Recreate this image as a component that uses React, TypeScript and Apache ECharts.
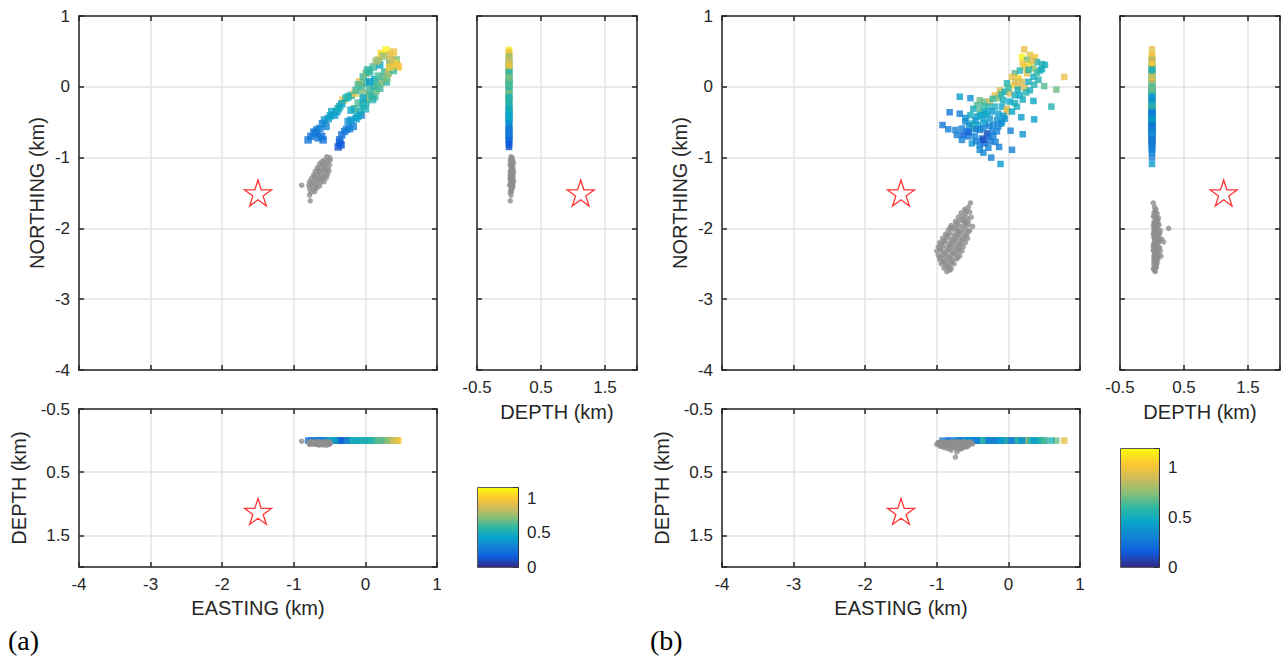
import React, { useEffect, useRef } from 'react';
import * as echarts from 'echarts';

// parula colour map
const parula = ['#352a87', '#0f5cdd', '#1481d6', '#06a4ca', '#2eb7a4', '#87bf77', '#d1bb59', '#fec832', '#f9fb0e'];

const mapTicks = [-4, -3, -2, -1, 0, 1];
const depthTicks = [-0.5, 0.5, 1.5];
const cbTicks = [0, 0.5, 1];
const cbMaxA = 1.15;
const cbMaxB = 1.18;
const quakeDepth = 0;
// star: [easting, northing, depth]
const starA = [-1.5, -1.5, 1.12];
const starB = [-1.5, -1.5, 1.12];

// coloured events (a): [easting, northing, value]
const quakesA: number[][] = [
  [-0.80, -0.75, 0.25], [-0.76, -0.70, 0.22], [-0.72, -0.64, 0.28], [-0.68, -0.61, 0.25], [-0.64, -0.59, 0.28],
  [-0.61, -0.70, 0.20], [-0.59, -0.75, 0.22], [-0.66, -0.72, 0.24], [-0.57, -0.47, 0.35], [-0.60, -0.52, 0.30],
  [-0.52, -0.45, 0.40], [-0.47, -0.35, 0.45], [-0.40, -0.35, 0.42], [-0.36, -0.28, 0.50], [-0.43, -0.40, 0.38],
  [-0.31, -0.19, 0.95], [-0.27, -0.16, 0.50], [-0.33, -0.24, 0.45], [-0.20, -0.12, 0.55], [-0.15, -0.09, 0.95],
  [-0.13, -0.05, 0.60], [-0.06, 0.00, 0.60], [-0.08, 0.07, 0.95], [-0.03, 0.14, 0.60], [0.01, 0.19, 0.70],
  [0.06, 0.21, 0.55], [0.11, 0.28, 0.60], [0.20, 0.31, 0.45], [0.18, 0.38, 0.80], [0.22, 0.47, 1.05],
  [0.29, 0.52, 1.12], [0.34, 0.45, 0.90], [0.39, 0.49, 0.95], [0.43, 0.38, 0.70], [0.46, 0.28, 1.00],
  [0.34, 0.33, 0.60], [0.27, 0.21, 0.60], [0.25, 0.43, 0.75], [0.41, 0.33, 1.05],
  [-0.38, -0.85, 0.12], [-0.36, -0.79, 0.15], [-0.36, -0.75, 0.20], [-0.33, -0.68, 0.22], [-0.29, -0.63, 0.25],
  [-0.22, -0.59, 0.28], [-0.17, -0.56, 0.30], [-0.24, -0.49, 0.35], [-0.20, -0.47, 0.38], [-0.13, -0.45, 0.40],
  [-0.06, -0.40, 0.30], [-0.08, -0.35, 0.50], [-0.15, -0.31, 0.60], [-0.20, -0.33, 0.45], [-0.10, -0.23, 0.62],
  [-0.03, -0.26, 0.50], [0.01, -0.21, 0.55], [0.04, -0.14, 0.90], [0.08, -0.12, 0.55], [0.13, -0.14, 0.60],
  [0.15, -0.05, 0.70], [0.11, 0.00, 0.55], [0.20, -0.02, 0.60], [0.22, 0.07, 0.90], [0.29, 0.07, 0.55],
  [0.25, 0.14, 0.65], [0.32, 0.19, 0.80], [0.39, 0.23, 0.60], [0.34, 0.28, 1.00], [0.01, 0.05, 0.60],
  [0.06, -0.05, 0.60], [-0.03, -0.09, 0.70], [0.06, 0.07, 0.40], [0.13, 0.10, 0.45], [-0.03, -0.16, 0.45],
  [0.18, 0.15, 0.62], [-0.70, -0.66, 0.26], [-0.55, -0.56, 0.30], [-0.49, -0.41, 0.42], [-0.38, -0.31, 0.48],
  [-0.24, -0.14, 0.55], [-0.10, 0.03, 0.62], [0.03, 0.24, 0.58], [0.15, 0.36, 0.75], [0.36, 0.38, 0.85],
  [-0.34, -0.82, 0.14], [-0.26, -0.60, 0.27], [-0.11, -0.42, 0.45], [0.00, -0.31, 0.50], [0.10, -0.18, 0.55],
  [0.17, 0.03, 0.62], [0.30, 0.12, 0.70], [0.44, 0.30, 0.95],
];

// grey events (a): [easting, northing, depth]
const grayA: number[][] = [
  [-0.54, -0.99, 0.03], [-0.50, -1.00, 0.05], [-0.58, -1.04, 0.02], [-0.53, -1.05, 0.06], [-0.49, -1.03, 0.04],
  [-0.64, -1.09, 0.05], [-0.59, -1.10, 0.03], [-0.54, -1.08, 0.07], [-0.50, -1.10, 0.02], [-0.67, -1.14, 0.04],
  [-0.62, -1.15, 0.06], [-0.57, -1.13, 0.03], [-0.52, -1.15, 0.05], [-0.70, -1.19, 0.02], [-0.65, -1.20, 0.07],
  [-0.60, -1.18, 0.04], [-0.55, -1.20, 0.03], [-0.51, -1.19, 0.06], [-0.72, -1.24, 0.05], [-0.67, -1.25, 0.02],
  [-0.62, -1.23, 0.06], [-0.57, -1.25, 0.04], [-0.53, -1.24, 0.03], [-0.75, -1.29, 0.04], [-0.70, -1.30, 0.06],
  [-0.65, -1.28, 0.03], [-0.60, -1.30, 0.05], [-0.55, -1.29, 0.02], [-0.78, -1.34, 0.06], [-0.73, -1.35, 0.03],
  [-0.68, -1.33, 0.05], [-0.63, -1.35, 0.04], [-0.58, -1.34, 0.07], [-0.79, -1.39, 0.03], [-0.74, -1.40, 0.05],
  [-0.69, -1.38, 0.02], [-0.64, -1.40, 0.06], [-0.78, -1.44, 0.04], [-0.73, -1.45, 0.03], [-0.68, -1.43, 0.05],
  [-0.76, -1.49, 0.02], [-0.71, -1.48, 0.04], [-0.89, -1.39, 0.01], [-0.78, -1.53, 0.03], [-0.77, -1.61, 0.02],
  [-0.61, -1.06, 0.04], [-0.66, -1.17, 0.05], [-0.71, -1.27, 0.03], [-0.76, -1.37, 0.05], [-0.59, -1.27, 0.06],
  [-0.64, -1.31, 0.02], [-0.69, -1.41, 0.04], [-0.56, -1.17, 0.04],
];

// coloured events (b): [easting, northing, value]
const quakesB: number[][] = [
  [0.19, 0.42, 1.15], [0.30, 0.45, 0.95], [0.37, 0.42, 1.00], [0.26, 0.38, 0.70], [0.40, 0.35, 0.55],
  [0.47, 0.32, 0.55], [0.51, 0.31, 0.50], [0.30, 0.31, 1.10], [0.23, 0.28, 1.00], [0.35, 0.26, 0.75],
  [0.44, 0.23, 0.50], [0.16, 0.23, 0.55], [0.09, 0.19, 0.65], [0.26, 0.19, 0.95], [0.05, 0.14, 0.95],
  [0.14, 0.12, 1.05], [0.35, 0.14, 0.50], [0.42, 0.10, 0.55], [0.19, 0.07, 0.90], [0.28, 0.07, 0.50],
  [-0.02, 0.05, 0.55], [0.07, 0.02, 1.05], [0.14, 0.00, 0.95], [0.23, -0.02, 0.90], [0.30, -0.05, 0.50],
  [-0.12, -0.05, 0.90], [-0.05, -0.07, 0.50], [0.02, -0.09, 0.90], [0.09, -0.12, 0.50], [0.16, -0.12, 0.45],
  [-0.19, -0.12, 0.95], [-0.14, -0.16, 0.70], [-0.07, -0.19, 0.50], [0.02, -0.21, 0.45], [0.09, -0.23, 0.50],
  [-0.40, -0.19, 0.70], [-0.33, -0.21, 0.70], [-0.26, -0.21, 0.90], [-0.44, -0.26, 0.65], [-0.28, -0.28, 0.55],
  [-0.19, -0.28, 0.50], [-0.09, -0.28, 0.45], [-0.02, -0.31, 0.90], [-0.02, -0.35, 0.95], [-0.40, -0.35, 0.65],
  [-0.49, -0.31, 0.50], [-0.33, -0.35, 0.45], [-0.23, -0.35, 0.40], [-0.14, -0.38, 0.42], [-0.07, -0.41, 0.40],
  [-0.53, -0.40, 0.50], [-0.44, -0.42, 0.42], [-0.35, -0.45, 0.40], [-0.26, -0.45, 0.40], [-0.16, -0.47, 0.35],
  [-0.09, -0.49, 0.40], [-0.60, -0.49, 0.30], [-0.51, -0.52, 0.50], [-0.42, -0.54, 0.40], [-0.33, -0.52, 0.42],
  [-0.21, -0.54, 0.32], [-0.14, -0.56, 0.30], [-0.65, -0.59, 0.30], [-0.49, -0.59, 0.60], [-0.40, -0.61, 0.32],
  [-0.30, -0.66, 0.05], [-0.23, -0.63, 0.28], [-0.16, -0.63, 0.30], [-0.72, -0.68, 0.28], [-0.63, -0.68, 0.15],
  [-0.56, -0.70, 0.25], [-0.47, -0.70, 0.30], [-0.37, -0.73, 0.22], [-0.28, -0.70, 0.22], [-0.21, -0.70, 0.30],
  [-0.65, -0.75, 0.30], [-0.51, -0.80, 0.40], [-0.40, -0.82, 0.30], [-0.33, -0.80, 0.22], [-0.35, -0.75, 0.10],
  [-0.40, -0.89, 0.32], [-0.35, -0.93, 0.32], [-0.74, -0.61, 0.30], [-0.58, -0.63, 0.25], [-0.35, -0.59, 0.30],
  [-0.55, -0.55, 0.35], [-0.46, -0.48, 0.40], [-0.38, -0.40, 0.45], [-0.30, -0.38, 0.45], [-0.27, -0.55, 0.30],
  [-0.10, -0.52, 0.35], [-0.05, -0.45, 0.38], [0.05, -0.35, 0.45], [0.12, -0.28, 0.50], [0.20, -0.18, 0.50],
  [0.25, -0.08, 0.55], [0.36, 0.03, 0.55], [0.40, 0.20, 0.60], [0.47, 0.25, 0.50], [0.33, 0.37, 0.90],
  [0.20, 0.33, 1.00], [0.10, 0.07, 0.90], [0.00, -0.02, 0.60], [-0.10, -0.11, 0.55], [-0.22, -0.17, 0.60],
  [-0.35, -0.27, 0.60], [-0.45, -0.60, 0.28], [-0.55, -0.64, 0.20], [-0.25, -0.77, 0.25], [-0.45, -0.77, 0.30],
  [-0.28, -0.86, 0.30], [-0.18, -0.78, 0.28], [-0.60, -0.44, 0.35], [0.13, -0.04, 0.50], [0.28, 0.24, 0.55],
  [0.22, 0.53, 0.95], [0.78, 0.14, 0.95], [0.50, 0.01, 0.65], [0.67, -0.04, 0.70], [0.35, -0.20, 0.45],
  [0.60, -0.28, 0.55], [0.18, -0.43, 0.42], [0.36, -0.46, 0.42], [-0.68, -0.14, 0.42], [-0.53, -0.16, 0.35],
  [-0.82, -0.36, 0.25], [-0.68, -0.38, 0.28], [-0.92, -0.54, 0.25], [-0.84, -0.60, 0.28], [0.03, -0.62, 0.30],
  [0.20, -0.67, 0.38], [-0.13, -0.85, 0.28], [0.05, -0.89, 0.30], [-0.24, -1.00, 0.30], [-0.11, -1.09, 0.40],
];

// grey events (b): [easting, northing, depth]
const grayB: number[][] = [
  [-0.53, -1.64, 0.02], [-0.56, -1.70, 0.04], [-0.61, -1.73, 0.06], [-0.66, -1.78, 0.03], [-0.60, -1.79, 0.08],
  [-0.54, -1.77, 0.05], [-0.70, -1.84, 0.07], [-0.64, -1.83, 0.02], [-0.58, -1.85, 0.10], [-0.52, -1.84, 0.04],
  [-0.74, -1.90, 0.05], [-0.68, -1.89, 0.09], [-0.62, -1.91, 0.03], [-0.56, -1.90, 0.06], [-0.80, -1.96, 0.04],
  [-0.74, -1.95, 0.11], [-0.68, -1.97, 0.06], [-0.62, -1.96, 0.02], [-0.56, -1.95, 0.08], [-0.50, -1.97, 0.05],
  [-0.84, -2.02, 0.07], [-0.78, -2.01, 0.03], [-0.72, -2.03, 0.13], [-0.66, -2.02, 0.05], [-0.60, -2.01, 0.09],
  [-0.54, -2.03, 0.04], [-0.88, -2.08, 0.03], [-0.82, -2.07, 0.10], [-0.76, -2.09, 0.06], [-0.70, -2.08, 0.02],
  [-0.64, -2.07, 0.12], [-0.58, -2.09, 0.05], [-0.92, -2.14, 0.08], [-0.86, -2.13, 0.04], [-0.80, -2.15, 0.15],
  [-0.74, -2.14, 0.06], [-0.68, -2.13, 0.03], [-0.62, -2.15, 0.09], [-0.57, -2.14, 0.05], [-0.96, -2.20, 0.05],
  [-0.90, -2.19, 0.11], [-0.84, -2.21, 0.03], [-0.78, -2.20, 0.07], [-0.72, -2.19, 0.18], [-0.66, -2.21, 0.04],
  [-0.60, -2.20, 0.08], [-0.98, -2.26, 0.03], [-0.92, -2.25, 0.07], [-0.86, -2.27, 0.12], [-0.80, -2.26, 0.05],
  [-0.74, -2.25, 0.02], [-0.68, -2.27, 0.09], [-0.63, -2.26, 0.06], [-1.00, -2.32, 0.06], [-0.94, -2.31, 0.02],
  [-0.88, -2.33, 0.09], [-0.82, -2.32, 0.13], [-0.76, -2.31, 0.04], [-0.70, -2.33, 0.07], [-0.65, -2.32, 0.03],
  [-0.98, -2.38, 0.04], [-0.92, -2.37, 0.08], [-0.86, -2.39, 0.03], [-0.80, -2.38, 0.10], [-0.74, -2.37, 0.05],
  [-0.68, -2.39, 0.14], [-0.96, -2.44, 0.07], [-0.90, -2.43, 0.03], [-0.84, -2.45, 0.06], [-0.78, -2.44, 0.09],
  [-0.72, -2.43, 0.04], [-0.94, -2.50, 0.05], [-0.88, -2.49, 0.08], [-0.82, -2.51, 0.03], [-0.76, -2.50, 0.06],
  [-0.90, -2.56, 0.04], [-0.84, -2.55, 0.07], [-0.80, -2.57, 0.02], [-0.86, -2.61, 0.05], [-0.74, -2.00, 0.26],
  [-0.59, -1.75, 0.05], [-0.63, -1.87, 0.07], [-0.71, -1.93, 0.04], [-0.59, -1.93, 0.09], [-0.81, -1.99, 0.06],
  [-0.69, -2.05, 0.08], [-0.57, -2.05, 0.03], [-0.85, -2.10, 0.05], [-0.73, -2.11, 0.10], [-0.61, -2.11, 0.06],
  [-0.89, -2.17, 0.07], [-0.77, -2.17, 0.04], [-0.65, -2.17, 0.12], [-0.93, -2.22, 0.04], [-0.81, -2.23, 0.08],
  [-0.69, -2.23, 0.05], [-0.95, -2.29, 0.09], [-0.83, -2.29, 0.06], [-0.71, -2.29, 0.03], [-0.89, -2.35, 0.05],
  [-0.77, -2.35, 0.08], [-0.95, -2.41, 0.06], [-0.83, -2.41, 0.04], [-0.71, -2.41, 0.07], [-0.91, -2.47, 0.05],
  [-0.79, -2.47, 0.03], [-0.87, -2.53, 0.06], [-0.82, -2.59, 0.04],
];

const AX = '#262626';
const GRID = '#e3e3e3';
const FONT = "'Liberation Sans', Arial, Helvetica, sans-serif";
const STAR = 'path://M50 0 L61.23 34.55 L97.55 34.55 L68.16 55.9 L79.39 90.45 L50 69.1 L20.61 90.45 L31.84 55.9 L2.45 34.55 L38.77 34.55 Z';

const labelFmt = (list: number[]) => (v: number) => (list.some((t) => Math.abs(t - v) < 1e-6) ? String(v) : '');

function valAxis(gridIndex: number, position: string, min: number, max: number, interval: number,
  labels: number[] | null, split: boolean, extra: any = {}) {
  return {
    type: 'value', gridIndex, position, min, max, interval,
    axisLine: { show: true, onZero: false, lineStyle: { color: AX, width: 1.5 } },
    axisTick: { show: true, inside: true, length: 5, lineStyle: { color: AX, width: 1.5 } },
    axisLabel: labels
      ? { show: true, color: AX, fontFamily: FONT, fontSize: 17, margin: 9, formatter: labelFmt(labels), showMinLabel: true, showMaxLabel: true }
      : { show: false },
    splitLine: { show: split, lineStyle: { color: GRID, width: 1.5 } },
    nameTextStyle: { color: AX, fontFamily: FONT, fontSize: 20 },
    nameMoveOverlap: false,
    ...extra,
  };
}

function buildPanel(opt: any, ox: number, quakes: number[][], gray: number[][], star: number[], cbMax: number,
  cb: { left: number; top: number; width: number; height: number }, mainSize: number) {
  const g0 = opt.grid.length;
  opt.grid.push(
    { left: 79 + ox, top: 16, width: 358, height: 354, outerBoundsMode: 'none' },
    { left: 477 + ox, top: 16, width: 160, height: 354, outerBoundsMode: 'none' },
    { left: 79 + ox, top: 409, width: 358, height: 158, outerBoundsMode: 'none' },
    { ...cb, show: true, borderColor: AX, borderWidth: 1.5, outerBoundsMode: 'none' },
  );
  const gMain = g0, gSide = g0 + 1, gBot = g0 + 2, gCb = g0 + 3;
  const xi = opt.xAxis.length, yi = opt.yAxis.length;
  // main
  opt.xAxis.push(valAxis(gMain, 'bottom', -4, 1, 1, null, true));
  opt.xAxis.push(valAxis(gMain, 'top', -4, 1, 1, null, false));
  opt.yAxis.push(valAxis(gMain, 'left', -4, 1, 1, mapTicks, true, {
    name: 'NORTHING (km)', nameLocation: 'middle', nameGap: 32, nameRotate: 90,
  }));
  opt.yAxis.push(valAxis(gMain, 'right', -4, 1, 1, null, false));
  // side
  opt.xAxis.push(valAxis(gSide, 'bottom', -0.5, 2, 1, depthTicks, true, {
    name: 'DEPTH (km)', nameLocation: 'middle', nameGap: 32,
  }));
  opt.xAxis.push(valAxis(gSide, 'top', -0.5, 2, 1, null, false));
  opt.yAxis.push(valAxis(gSide, 'left', -4, 1, 1, null, true));
  opt.yAxis.push(valAxis(gSide, 'right', -4, 1, 1, null, false));
  // bottom
  opt.xAxis.push(valAxis(gBot, 'bottom', -4, 1, 1, mapTicks, true, {
    name: 'EASTING (km)', nameLocation: 'middle', nameGap: 31,
  }));
  opt.xAxis.push(valAxis(gBot, 'top', -4, 1, 1, null, false));
  opt.yAxis.push(valAxis(gBot, 'left', -0.5, 2, 1, depthTicks, true, {
    inverse: true, name: 'DEPTH (km)', nameLocation: 'middle', nameGap: 50, nameRotate: 90,
  }));
  opt.yAxis.push(valAxis(gBot, 'right', -0.5, 2, 1, null, false, { inverse: true }));
  // colour bar
  opt.xAxis.push({ type: 'category', gridIndex: gCb, data: ['c'], show: false });
  opt.yAxis.push(valAxis(gCb, 'right', 0, cbMax, 0.5, cbTicks, false, {
    axisLabel: { show: true, color: AX, fontFamily: FONT, fontSize: 17, margin: 9, formatter: labelFmt(cbTicks) },
  }));

  const coloured: number[] = [];
  const sq = { type: 'scatter', symbol: 'rect', silent: true };
  const gr = { type: 'scatter', symbol: 'circle', symbolSize: 5.5, silent: true, itemStyle: { color: '#8f8f8f' } };
  const st = {
    type: 'scatter', symbol: STAR, symbolSize: [27, 26], silent: true, z: 5,
    itemStyle: { color: 'rgba(0,0,0,0)', borderColor: '#ff0000', borderWidth: 1.3 },
  };
  const add = (s: any, isColoured = false) => {
    if (isColoured) coloured.push(opt.series.length);
    opt.series.push(s);
  };
  // main
  add({ ...sq, symbolSize: mainSize, xAxisIndex: xi, yAxisIndex: yi, data: quakes.map((p) => [p[0], p[1], p[2]]) }, true);
  add({ ...gr, xAxisIndex: xi, yAxisIndex: yi, data: gray.map((p) => [p[0], p[1]]) });
  add({ ...st, xAxisIndex: xi, yAxisIndex: yi, data: [[star[0], star[1]]] });
  // side
  add({ ...sq, symbolSize: 6.5, xAxisIndex: xi + 2, yAxisIndex: yi + 2, data: quakes.map((p) => [quakeDepth, p[1], p[2]]) }, true);
  add({ ...gr, xAxisIndex: xi + 2, yAxisIndex: yi + 2, data: gray.map((p) => [p[2], p[1]]) });
  add({ ...st, xAxisIndex: xi + 2, yAxisIndex: yi + 2, data: [[star[2], star[1]]] });
  // bottom
  add({ ...sq, symbolSize: 6.5, xAxisIndex: xi + 4, yAxisIndex: yi + 4, data: quakes.map((p) => [p[0], quakeDepth, p[2]]) }, true);
  add({ ...gr, xAxisIndex: xi + 4, yAxisIndex: yi + 4, data: gray.map((p) => [p[0], p[2]]) });
  add({ ...st, xAxisIndex: xi + 4, yAxisIndex: yi + 4, data: [[star[0], star[2]]] });
  // colour bar
  const stops = parula.map((c, i) => ({ offset: 1 - i / (parula.length - 1), color: c })).reverse();
  add({
    type: 'bar', xAxisIndex: xi + 6, yAxisIndex: yi + 6, data: [cbMax], barWidth: '100%', silent: true,
    itemStyle: { color: new echarts.graphic.LinearGradient(0, 0, 0, 1, stops) },
  });
  opt.visualMap.push({
    type: 'continuous', show: false, min: 0, max: cbMax, dimension: 2, seriesIndex: coloured,
    inRange: { color: parula },
  });
}

export default function App() {
  const ref = useRef<HTMLDivElement>(null);
  useEffect(() => {
    document.body.style.margin = '0';
    if (!ref.current) return;
    const chart = echarts.init(ref.current, undefined, { renderer: 'svg' });
    const opt: any = {
      animation: false,
      backgroundColor: '#ffffff',
      grid: [], xAxis: [], yAxis: [], series: [], visualMap: [],
      graphic: [
        { type: 'text', x: 8, y: 640, style: { text: '(a)', fontFamily: "'Liberation Serif', serif", fontSize: 28, fill: '#000', verticalAlign: 'middle' } },
        { type: 'text', x: 650, y: 640, style: { text: '(b)', fontFamily: "'Liberation Serif', serif", fontSize: 28, fill: '#000', verticalAlign: 'middle' } },
      ],
    };
    buildPanel(opt, 0, quakesA, grayA, starA, cbMaxA, { left: 478, top: 488, width: 40, height: 79 }, 7.5);
    buildPanel(opt, 643, quakesB, grayB, starB, cbMaxB, { left: 1121, top: 449, width: 38, height: 118 }, 6.5);
    chart.setOption(opt);
    return () => chart.dispose();
  }, []);
  return <div ref={ref} style={{ width: 1281, height: 659 }} />;
}
